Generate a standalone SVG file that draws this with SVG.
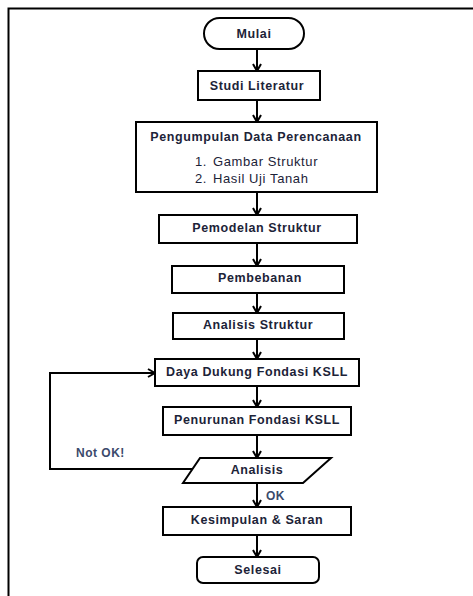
<svg xmlns="http://www.w3.org/2000/svg" width="473" height="596" viewBox="0 0 473 596">
<style>
.box{fill:#fff;stroke:#000;stroke-width:2}
.t{font-family:"Liberation Sans",Arial,sans-serif;font-weight:bold;font-size:12.5px;letter-spacing:0.6px;fill:#1c2338;text-anchor:middle;dominant-baseline:central}
.l{font-family:"Liberation Sans",Arial,sans-serif;font-size:13px;letter-spacing:0.6px;fill:#1c2338;dominant-baseline:central}
.lab{font-family:"Liberation Sans",Arial,sans-serif;font-weight:bold;font-size:12px;letter-spacing:0.5px;fill:#3b4a6b;dominant-baseline:central}
.c{fill:none;stroke:#000;stroke-width:2}
</style>
<defs>
<marker id="ah" markerWidth="10" markerHeight="10" viewBox="0 0 10 10" refX="9" refY="5" orient="auto" markerUnits="userSpaceOnUse">
<polyline points="2,1 9,5 2,9" fill="none" stroke="#000" stroke-width="2"/>
</marker>
</defs>
<rect width="473" height="596" fill="#fff"/>
<g id="frame">
<path d="M8.5,596 V8.5 H473" fill="none" stroke="#000" stroke-width="2"/>
</g>
<g id="connectors">
<line class="c" x1="257" y1="49" x2="257" y2="71" marker-end="url(#ah)"/>
<line class="c" x1="257" y1="100" x2="257" y2="122" marker-end="url(#ah)"/>
<line class="c" x1="257" y1="192" x2="257" y2="215" marker-end="url(#ah)"/>
<line class="c" x1="257" y1="243" x2="257" y2="266" marker-end="url(#ah)"/>
<line class="c" x1="257" y1="293" x2="257" y2="313" marker-end="url(#ah)"/>
<line class="c" x1="257" y1="339" x2="257" y2="359" marker-end="url(#ah)"/>
<line class="c" x1="257" y1="386" x2="257" y2="407" marker-end="url(#ah)"/>
<line class="c" x1="257" y1="435" x2="257" y2="458" marker-end="url(#ah)"/>
<line class="c" x1="257" y1="483" x2="257" y2="507" marker-end="url(#ah)"/>
<line class="c" x1="257" y1="535" x2="257" y2="557" marker-end="url(#ah)"/>
<polyline class="c" points="192,469 50,469 50,373 155,373" marker-end="url(#ah)"/>
<text class="lab" x="76" y="453">Not OK!</text>
<text class="lab" x="266" y="496">OK</text>
</g>
<g id="mulai">
<rect class="box" x="204" y="18" width="100" height="31" rx="15.5"/>
<text class="t" x="254" y="34">Mulai</text>
</g>
<g id="studi">
<rect class="box" x="198" y="71" width="122" height="29"/>
<text class="t" x="257" y="86">Studi Literatur</text>
</g>
<g id="pengumpulan">
<rect class="box" x="136" y="122" width="241" height="70"/>
<text class="t" x="256" y="137">Pengumpulan Data Perencanaan</text>
<text class="l" x="195" y="161">1.</text>
<text class="l" x="213" y="161">Gambar Struktur</text>
<text class="l" x="195" y="178">2.</text>
<text class="l" x="213" y="178">Hasil Uji Tanah</text>
</g>
<g id="pemodelan">
<rect class="box" x="159" y="215" width="198" height="28"/>
<text class="t" x="257" y="228">Pemodelan Struktur</text>
</g>
<g id="pembebanan">
<rect class="box" x="172" y="266" width="172" height="27"/>
<text class="t" x="260" y="278">Pembebanan</text>
</g>
<g id="analisis-struktur">
<rect class="box" x="173" y="313" width="171" height="26"/>
<text class="t" x="258" y="325">Analisis Struktur</text>
</g>
<g id="daya-dukung">
<rect class="box" x="155" y="359" width="204" height="27"/>
<text class="t" x="257" y="372">Daya Dukung Fondasi KSLL</text>
</g>
<g id="penurunan">
<rect class="box" x="163" y="407" width="188" height="28"/>
<text class="t" x="257" y="420">Penurunan Fondasi KSLL</text>
</g>
<g id="analisis">
<polygon class="box" points="200,458 331,458 303,483 183,483"/>
<text class="t" x="257" y="470">Analisis</text>
</g>
<g id="kesimpulan">
<rect class="box" x="163" y="507" width="188" height="28"/>
<text class="t" x="257" y="520">Kesimpulan &amp; Saran</text>
</g>
<g id="selesai">
<rect class="box" x="197" y="557" width="122" height="26" rx="6"/>
<text class="t" x="258" y="570">Selesai</text>
</g>
</svg>
